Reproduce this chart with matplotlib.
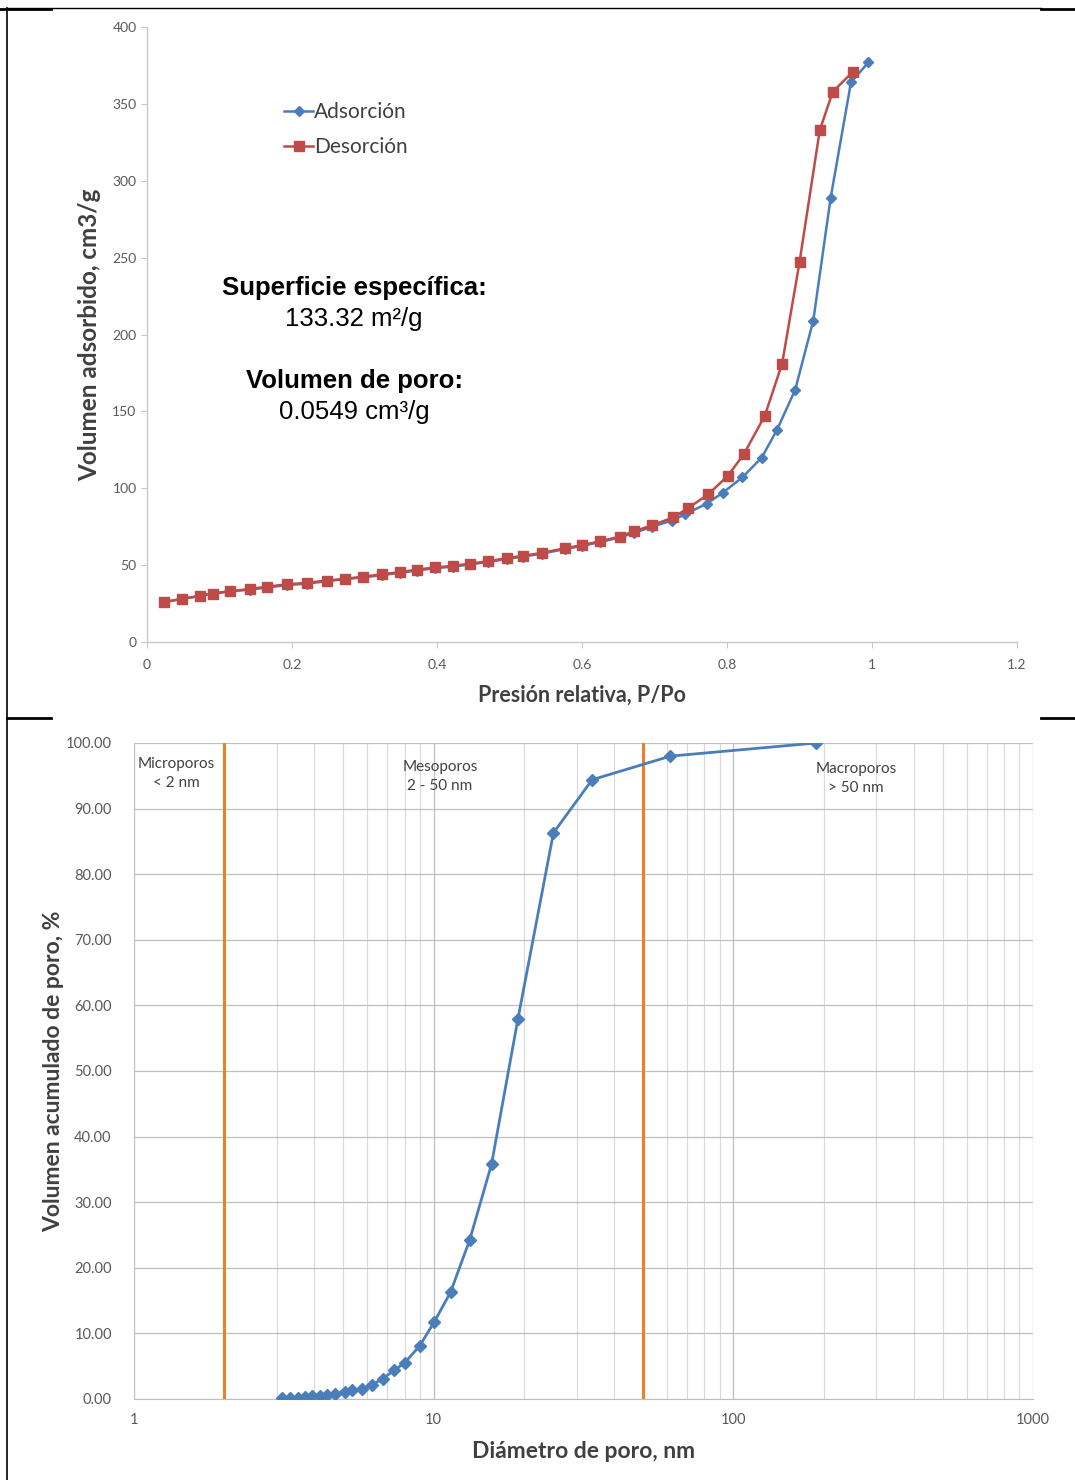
import matplotlib
matplotlib.use("Agg")
import matplotlib.pyplot as plt
from matplotlib.lines import Line2D
from matplotlib.ticker import FixedLocator, NullFormatter, LogLocator

# ---------------- data ----------------
ads_x = [0.024, 0.048, 0.073, 0.091, 0.114, 0.142, 0.166, 0.193, 0.221, 0.248, 0.273, 0.298,
         0.324, 0.349, 0.372, 0.397, 0.422, 0.446, 0.470, 0.496, 0.518, 0.545, 0.577, 0.600,
         0.625, 0.652, 0.672, 0.697, 0.724, 0.742, 0.772, 0.794, 0.821, 0.848, 0.869, 0.894,
         0.919, 0.943, 0.971, 0.995]
ads_y = [26, 28, 30, 31.5, 33, 34, 35.5, 37, 38, 39.5, 41, 42, 43.5, 45, 46.5, 48, 49, 50.5,
         52, 54, 55.5, 57.5, 60.5, 62.5, 65, 68, 71, 75, 79, 83, 90, 97, 107, 120, 138, 164,
         209, 289, 364, 377]
des_x = [0.024, 0.048, 0.073, 0.091, 0.114, 0.142, 0.166, 0.193, 0.221, 0.248, 0.273, 0.298,
         0.324, 0.349, 0.372, 0.397, 0.422, 0.446, 0.470, 0.496, 0.518, 0.545, 0.577, 0.600,
         0.625, 0.652, 0.672, 0.697, 0.726, 0.746, 0.774, 0.801, 0.823, 0.852, 0.876, 0.900,
         0.928, 0.946, 0.974]
des_y = [26, 28, 30, 31.5, 33, 34.5, 36, 37.5, 38.5, 40, 41, 42.5, 44, 45.5, 47, 48.5, 49.5,
         51, 52.5, 54.5, 56, 58, 61, 63, 65.5, 68.5, 72, 76, 81, 87, 96, 108, 122, 147, 181,
         247, 333, 358, 371]

pore_d = [3.11, 3.31, 3.52, 3.71, 3.92, 4.17, 4.40, 4.67, 5.05, 5.33, 5.75, 6.21, 6.76, 7.40,
          8.0, 8.98, 10.06, 11.39, 13.18, 15.6, 19.1, 25.1, 33.8, 61.7, 189]
pore_cum = [0.1, 0.15, 0.2, 0.3, 0.4, 0.5, 0.6, 0.8, 1.0, 1.3, 1.5, 2.1, 3.1, 4.4, 5.5, 8.1,
            11.8, 16.3, 24.2, 35.8, 57.9, 86.3, 94.4, 98.0, 100.0]

top_yticks = [0, 50, 100, 150, 200, 250, 300, 350, 400]
top_xticks = [0, 0.2, 0.4, 0.6, 0.8, 1.0, 1.2]
top_xlabels = ["0", "0.2", "0.4", "0.6", "0.8", "1", "1.2"]
bot_yticks = [0, 10, 20, 30, 40, 50, 60, 70, 80, 90, 100]
bot_xticks = [1, 10, 100, 1000]
limits_nm = [2, 50]

BLUE = "#4A7EBB"
RED = "#BE4B48"
ORANGE = "#E8822A"
TICKC = "#595959"
FONT = ["Lato", "DejaVu Sans"]
ARIAL = ["Liberation Sans", "DejaVu Sans"]

W, H = 1075, 1480
fig = plt.figure(figsize=(W / 100, H / 100), dpi=100)
plt.rcParams['font.family'] = FONT

# ---------------- top chart ----------------
ax1 = fig.add_axes([147 / W, 1 - 642 / H, (1017 - 147) / W, (642 - 27) / H])
ax1.plot(ads_x, ads_y, color=BLUE, marker="D", markersize=5, lw=1.8, label="Adsorción")
ax1.plot(des_x, des_y, color=RED, marker="s", markersize=7.5, lw=1.8, label="Desorción")
ax1.set_xlim(0, 1.2)
ax1.set_ylim(0, 400)
ax1.set_xticks(top_xticks)
ax1.set_xticklabels(top_xlabels)
ax1.set_yticks(top_yticks)
for s in ["top", "right"]:
    ax1.spines[s].set_visible(False)
for s in ["left", "bottom"]:
    ax1.spines[s].set_color("#C8C8C8")
    ax1.spines[s].set_linewidth(1.0)
ax1.tick_params(axis="both", colors="#C8C8C8", labelcolor=TICKC, labelsize=10, length=4,
                direction="out")
ax1.tick_params(axis="x", pad=8)
ax1.set_xlabel("Presión relativa, P/Po", fontsize=15.5, fontweight="bold", color="#404040",
               labelpad=10)
ax1.set_ylabel("Volumen adsorbido, cm3/g", fontsize=17.5, fontweight="bold", color="#404040",
               labelpad=8)
leg = ax1.legend(loc="center left", bbox_to_anchor=(0.148, 0.833), frameon=False, fontsize=15,
                 handlelength=1.4, handletextpad=0.05, labelspacing=0.72, borderaxespad=0)
for t in leg.get_texts():
    t.set_color("#404040")
ax1.text(0.238, 0.575, "Superficie específica:", transform=ax1.transAxes, ha="center",
         va="center", fontsize=18.5, fontweight="bold", family=ARIAL)
ax1.text(0.238, 0.525, "133.32 m²/g", transform=ax1.transAxes, ha="center",
         va="center", fontsize=18.5, family=ARIAL)
ax1.text(0.238, 0.424, "Volumen de poro:", transform=ax1.transAxes, ha="center",
         va="center", fontsize=18.5, fontweight="bold", family=ARIAL)
ax1.text(0.238, 0.374, "0.0549 cm³/g", transform=ax1.transAxes, ha="center",
         va="center", fontsize=18.5, family=ARIAL)

# ---------------- bottom chart ----------------
ax2 = fig.add_axes([134 / W, 1 - 1399 / H, (1033 - 134) / W, (1399 - 743) / H])
ax2.set_xscale("log")
ax2.set_xlim(1, 1000)
ax2.set_ylim(0, 100)
ax2.xaxis.set_major_locator(FixedLocator(bot_xticks))
ax2.set_xticklabels([str(v) for v in bot_xticks])
ax2.xaxis.set_minor_locator(LogLocator(base=10, subs=range(2, 10)))
ax2.xaxis.set_minor_formatter(NullFormatter())
ax2.set_yticks(bot_yticks)
ax2.set_yticklabels([f"{v:.2f}" for v in bot_yticks])
ax2.grid(which="major", axis="both", color="#BFBFBF", lw=0.9)
ax2.grid(which="minor", axis="x", color="#D9D9D9", lw=0.8)
ax2.set_axisbelow(True)
for s in ["top", "right", "left"]:
    ax2.spines[s].set_visible(False)
ax2.spines["bottom"].set_color("#BFBFBF")
ax2.tick_params(axis="both", which="both", length=0, labelcolor=TICKC, labelsize=10.5)
ax2.tick_params(axis="x", pad=10)
ax2.tick_params(axis="y", pad=16)
for xv in limits_nm:
    ax2.axvline(xv, color=ORANGE, lw=2.2, zorder=3)
ax2.plot(pore_d, pore_cum, color=BLUE, marker="D", markersize=6.5, lw=2.0, zorder=4)
ax2.text(1.38, 97.9, "Microporos\n< 2 nm", ha="center", va="top", fontsize=11,
         color="#404040", linespacing=1.45)
ax2.text(10.5, 97.4, "Mesoporos\n2 - 50 nm", ha="center", va="top", fontsize=11,
         color="#404040", linespacing=1.45)
ax2.text(257, 97.1, "Macroporos\n> 50 nm", ha="center", va="top", fontsize=11,
         color="#404040", linespacing=1.45)
ax2.set_xlabel("Diámetro de poro, nm", fontsize=16.5, fontweight="bold", color="#404040",
               labelpad=10)
ax2.set_ylabel("Volumen acumulado de poro, %", fontsize=16.5, fontweight="bold",
               color="#404040", labelpad=1)

# ---------------- frame lines (table borders) ----------------
def px_line(x0, y0, x1, y1, lw):
    fig.add_artist(Line2D([x0 / W, x1 / W], [1 - y0 / H, 1 - y1 / H], color="black", lw=lw))

px_line(7, 8, 1041, 8, 1.0)
px_line(0, 9, 51, 9, 2.0)
px_line(1041, 9, 1075, 9, 2.0)
px_line(7, 8, 7, 1480, 1.2)
px_line(7, 718, 51, 718, 2.0)
px_line(1041, 718, 1075, 718, 2.0)

fig.savefig("out.png", dpi=100)
